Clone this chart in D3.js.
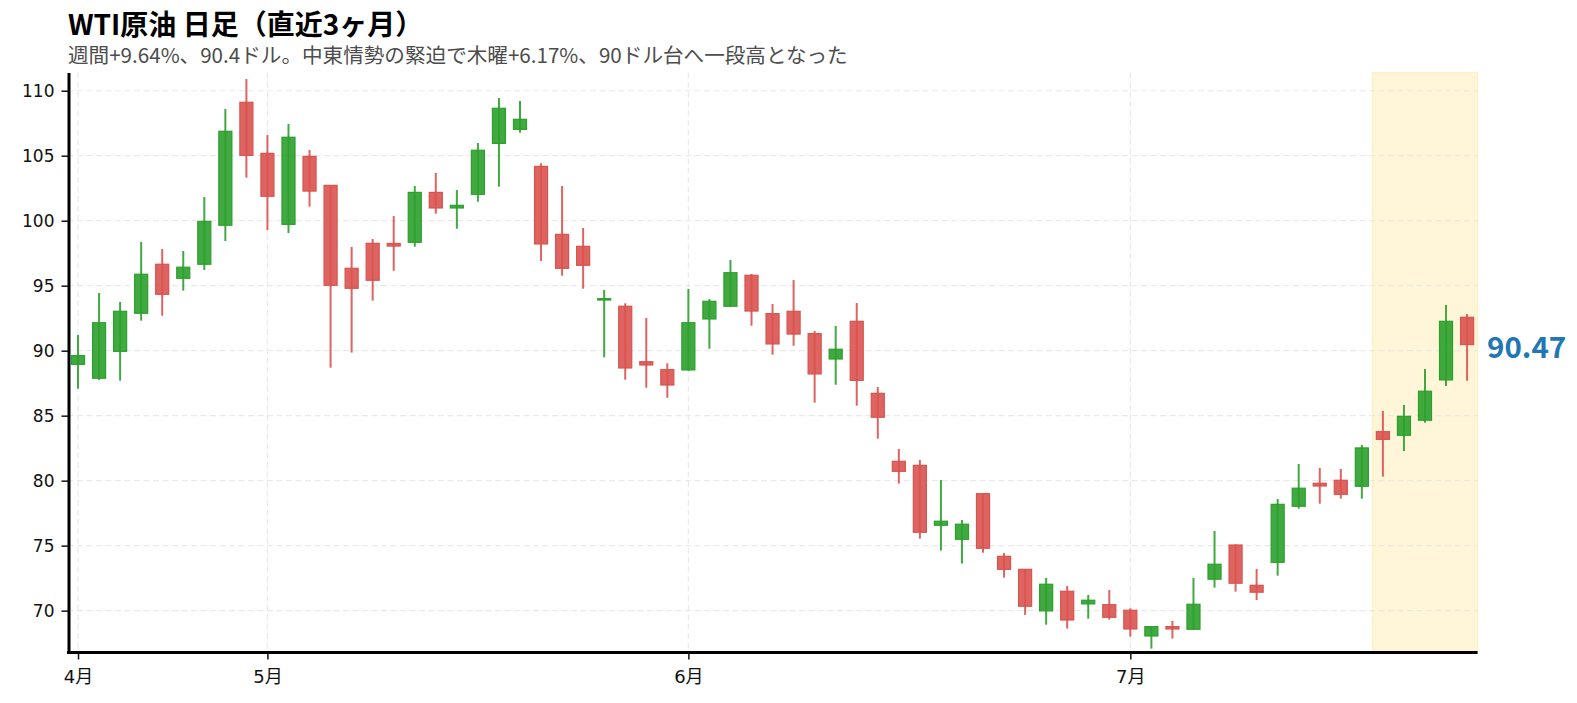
<!DOCTYPE html>
<html>
<head>
<meta charset="utf-8">
<script src="https://cdn.jsdelivr.net/npm/d3@7"></script>
<style>
  body { margin: 0; background: #fff; }
  svg { display: block; }
  .ticks text { font-family: "DejaVu Sans", "Noto Sans CJK JP", sans-serif; font-size: 17px; fill: #111; }
  .xticks text { font-size: 18px; }
</style>
</head>
<body>
<div id="chart"></div>
<script>
// OHLC values, one entry per trading day
var opens  = [88.95, 87.88, 89.95, 92.88, 96.65, 95.57, 96.65, 99.65, 109.11, 105.18,
              99.72, 104.95, 102.72, 96.34, 98.26, 98.25, 98.34, 102.18, 100.98, 102.03,
              105.95, 107.03, 104.18, 98.95, 98.03, 93.90, 93.42, 89.15, 88.54, 88.52,
              92.44, 93.42, 95.80, 92.85, 93.03, 91.31, 89.36, 92.26, 86.72, 81.49,
              81.18, 76.57, 75.49, 79.00, 74.18, 73.18, 69.98, 71.49, 70.52, 70.46,
              70.03, 68.05, 68.77, 68.57, 72.42, 75.05, 71.95, 73.72, 78.03, 79.80,
              80.03, 79.57, 83.77, 83.49, 84.65, 87.75, 92.57]
var highs  = [91.21, 94.44, 93.75, 98.36, 97.82, 97.67, 101.82, 108.59, 110.90, 106.59,
              107.44, 105.44, 102.72, 97.98, 98.59, 100.36, 102.67, 103.67, 102.36, 105.98,
              109.44, 109.21, 104.42, 102.67, 99.44, 94.67, 93.65, 92.52, 89.03, 94.75,
              93.98, 96.98, 95.90, 93.59, 95.44, 91.52, 91.90, 93.67, 87.21, 82.44,
              81.59, 80.05, 76.98, 79.05, 74.44, 73.20, 72.52, 71.90, 71.21, 71.59,
              70.18, 68.80, 69.21, 72.52, 76.13, 75.10, 73.21, 78.59, 81.28, 80.98,
              80.90, 82.75, 85.36, 85.82, 88.59, 93.52, 92.82]
var lows   = [87.08, 87.75, 87.69, 92.31, 92.69, 94.62, 96.21, 98.44, 103.31, 99.28,
              99.05, 101.08, 88.69, 89.85, 93.85, 96.15, 98.00, 100.54, 99.38, 101.46,
              102.62, 106.77, 96.90, 95.77, 94.77, 89.49, 87.77, 87.15, 86.38, 88.45,
              90.15, 93.38, 91.92, 89.69, 90.38, 86.00, 87.38, 85.77, 83.23, 79.77,
              75.54, 74.62, 73.62, 74.46, 72.54, 69.67, 68.92, 68.62, 69.38, 69.31,
              68.00, 67.08, 67.85, 68.50, 71.77, 71.46, 70.82, 72.69, 77.85, 78.23,
              78.62, 78.62, 80.31, 82.28, 84.46, 87.28, 87.69]
var closes = [89.62, 92.15, 93.03, 95.88, 94.34, 96.42, 99.95, 106.88, 105.03, 101.88,
              106.42, 102.28, 95.03, 94.80, 95.42, 98.05, 102.18, 100.98, 101.18, 105.42,
              108.65, 107.80, 98.21, 96.34, 96.57, 94.00, 88.67, 88.90, 87.36, 92.15,
              93.80, 96.00, 93.05, 90.52, 91.28, 88.21, 90.11, 87.72, 84.88, 80.72,
              76.03, 76.88, 76.65, 74.80, 73.18, 70.34, 72.03, 69.28, 70.80, 69.49,
              68.59, 68.77, 68.59, 70.49, 73.57, 72.11, 71.42, 78.18, 79.42, 79.59,
              78.95, 82.52, 83.18, 84.95, 86.88, 92.26, 90.47]

// x-axis month labels and the candle index where each month starts
var monthLabels = ["4月", "5月", "6月", "7月"]
var monthStart = [0, 9, 29, 50]

// y ticks
var yTicks = [70, 75, 80, 85, 90, 95, 100, 105, 110]

// last week shaded (candle index range)
var weekStart = 62, weekEnd = 66

var title = "WTI原油 日足（直近3ヶ月）"
var subtitle = "週間+9.64%、90.4ドル。中東情勢の緊迫で木曜+6.17%、90ドル台へ一段高となった"

var candles = opens.map(function(o, i) {
  return {i: i, open: o, high: highs[i], low: lows[i], close: closes[i]}
})

const W = 1577, H = 703
const pLeft = 67.5, pRight = 1477.6, pTop = 72.4, pBottom = 652.5

var svg = d3.select("#chart").append("svg")
  .attr("width", W)
  .attr("height", H)

var x = d3.scaleLinear()
  .domain([-0.5, candles.length - 0.5])
  .range([pLeft, pRight])

var y = d3.scaleLinear()
  .domain([66.78, 111.41])
  .range([pBottom, pTop])

var step = x(1) - x(0)
var bodyW = step * 0.62

// Titles
svg.append("text")
  .attr("x", 68).attr("y", 22.5)
  .attr("dominant-baseline", "central")
  .style("font-family", "'Noto Sans CJK JP', sans-serif")
  .style("font-weight", "bold")
  .style("font-size", "28px")
  .style("fill", "#000")
  .text(title)

svg.append("text")
  .attr("x", 68).attr("y", 54)
  .attr("dominant-baseline", "central")
  .style("font-family", "'Noto Sans CJK JP', sans-serif")
  .style("font-size", "20.6px")
  .style("fill", "#4d4d4d")
  .text(subtitle)

// highlighted last week
svg.append("rect")
  .attr("x", x(weekStart - 0.5))
  .attr("y", pTop)
  .attr("width", x(weekEnd + 0.5) - x(weekStart - 0.5))
  .attr("height", pBottom - pTop)
  .attr("fill", "#ffc107")
  .attr("fill-opacity", 0.15)
  .attr("stroke", "#ffc107")
  .attr("stroke-opacity", 0.15)
  .attr("stroke-width", 1.5)

// grid
var grid = svg.append("g")
  .attr("stroke", "#e6e6e6")
  .attr("stroke-width", 1.2)
  .attr("stroke-dasharray", "6,3.5")
  .attr("opacity", 0.8)

grid.selectAll("line.h").data(yTicks).enter().append("line")
  .attr("x1", pLeft).attr("x2", pRight)
  .attr("y1", function(d) { return y(d) }).attr("y2", function(d) { return y(d) })

grid.selectAll("line.v").data(monthStart).enter().append("line")
  .attr("y1", pTop).attr("y2", pBottom)
  .attr("x1", function(d) { return x(d) }).attr("x2", function(d) { return x(d) })

// candles
var upCol = "#2ca02c", downCol = "#d9534f"
function col(d) { return d.close >= d.open ? upCol : downCol }

var g = svg.append("g")

g.selectAll("line.wick").data(candles).enter().append("line")
  .attr("class", "wick")
  .attr("x1", function(d) { return x(d.i) }).attr("x2", function(d) { return x(d.i) })
  .attr("y1", function(d) { return y(d.high) }).attr("y2", function(d) { return y(d.low) })
  .attr("stroke", col)
  .attr("stroke-width", 2)
  .attr("stroke-opacity", 0.9)

g.selectAll("rect.body").data(candles).enter().append("rect")
  .attr("class", "body")
  .attr("x", function(d) { return x(d.i) - bodyW / 2 })
  .attr("width", bodyW)
  .attr("y", function(d) { return y(Math.max(d.open, d.close)) })
  .attr("height", function(d) { return Math.max(1, Math.abs(y(d.open) - y(d.close))) })
  .attr("fill", col)
  .attr("fill-opacity", 0.9)
  .attr("stroke", col)
  .attr("stroke-width", 1.2)

// last close label
var last = candles[candles.length - 1]
svg.append("text")
  .attr("x", 1487)
  .attr("y", y(last.close))
  .attr("dominant-baseline", "central")
  .style("font-family", "'Noto Sans CJK JP', sans-serif")
  .style("font-weight", "bold")
  .style("font-size", "29.5px")
  .style("fill", "#1f77b4")
  .text(last.close.toFixed(2))

// axes
var yAxis = svg.append("g")
  .attr("class", "ticks")
  .attr("transform", "translate(" + 68.5 + ",0)")
  .call(d3.axisLeft(y).tickValues(yTicks).tickSize(7).tickSizeOuter(0).tickPadding(7))
yAxis.select(".domain").attr("stroke", "#000").attr("stroke-width", 3)
yAxis.selectAll(".tick line").attr("stroke", "#111").attr("stroke-width", 1.5)

var xAxis = svg.append("g")
  .attr("class", "ticks xticks")
  .attr("transform", "translate(0," + pBottom + ")")
  .call(d3.axisBottom(x).tickValues(monthStart)
    .tickFormat(function(d, i) { return monthLabels[i] })
    .tickSize(7).tickSizeOuter(0).tickPadding(11))
xAxis.select(".domain").attr("stroke", "#000").attr("stroke-width", 3)
  .attr("d", "M" + (pLeft - 0.5) + ",0H" + pRight)
xAxis.selectAll(".tick line").attr("stroke", "#111").attr("stroke-width", 1.5)
</script>
</body>
</html>
